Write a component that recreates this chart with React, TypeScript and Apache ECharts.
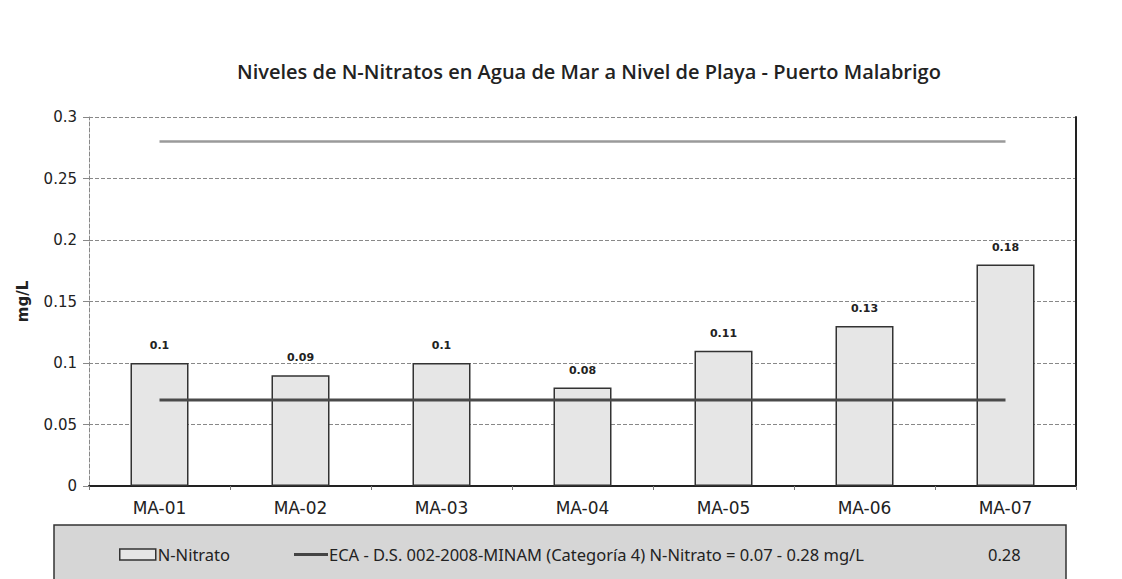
import React, { useEffect, useRef } from "react";
import * as echarts from "echarts";

const categories = ["MA-01", "MA-02", "MA-03", "MA-04", "MA-05", "MA-06", "MA-07"];
const nitrato = [0.1, 0.09, 0.1, 0.08, 0.11, 0.13, 0.18];
const ecaLow = [0.07, 0.07, 0.07, 0.07, 0.07, 0.07, 0.07];
const ecaHigh = [0.28, 0.28, 0.28, 0.28, 0.28, 0.28, 0.28];
const barName = "N-Nitrato";
const ecaName = "ECA - D.S. 002-2008-MINAM (Categoría 4) N-Nitrato = 0.07 - 0.28 mg/L";
const highName = "0.28";
const title = "Niveles de N-Nitratos en Agua de Mar a Nivel de Playa - Puerto Malabrigo";

export default function App() {
  const ref = useRef<HTMLDivElement>(null);
  useEffect(() => {
    if (!ref.current) return;
    const chart = echarts.init(ref.current, null, { renderer: "svg" });
    const legendText = { fontFamily: "Noto Sans", fontSize: 16.5, color: "#222" };
    chart.setOption({
      animation: false,
      backgroundColor: "#fff",
      title: {
        text: title,
        left: 232,
        top: 56,
        textStyle: { fontFamily: "Open Sans", fontWeight: 600, fontSize: 20, color: "#222" },
      },
      graphic: [
        {
          type: "rect",
          shape: { x: 54, y: 525, width: 1012, height: 56 },
          style: { fill: "#d6d6d6", stroke: "#333", lineWidth: 1.5 },
          z: -1,
        },
      ],
      legend: [
        {
          data: [barName],
          left: 114,
          top: 541,
          itemWidth: 36,
          itemHeight: 11,
          icon: "rect",
          itemGap: 2,
          textStyle: { ...legendText, padding: [0, 0, 0, -3] },
          itemStyle: { color: "#e6e6e6", borderColor: "#333", borderWidth: 1.5 },
        },
        {
          data: [ecaName],
          left: 289,
          top: 541,
          itemWidth: 34,
          itemHeight: 3,
          icon: "rect",
          textStyle: { ...legendText, padding: [0, 0, 0, -4] },
          itemStyle: { color: "#444" },
        },
        {
          data: [{ name: highName, icon: "none" }],
          left: 978,
          top: 541,
          itemWidth: 0,
          textStyle: legendText,
        },
      ],
      grid: { left: 89, right: 46, top: 117, bottom: 93 },
      xAxis: [
        {
          type: "category",
          data: categories,
          axisLine: { lineStyle: { color: "#777", type: "dashed", width: 1 } },
          axisTick: { show: true, length: 4, lineStyle: { color: "#777" } },
          axisLabel: { fontFamily: "DejaVu Sans", fontSize: 17, color: "#222", margin: 13 },
        },
        {
          type: "category",
          data: categories,
          position: "top",
          axisLine: { lineStyle: { color: "#222", width: 2 } },
          axisTick: { show: false },
          axisLabel: { show: false },
        },
      ],
      yAxis: [
        {
          type: "value",
          min: 0,
          max: 0.3,
          interval: 0.05,
          name: "mg/L",
          nameLocation: "middle",
          nameGap: 59,
          nameTextStyle: { fontFamily: "DejaVu Sans", fontWeight: "bold", fontSize: 15, color: "#222" },
          axisLine: { show: true, lineStyle: { color: "#888", type: "dashed", width: 1 } },
          axisTick: { show: true, length: 6, lineStyle: { color: "#888" } },
          axisLabel: { fontFamily: "DejaVu Sans", fontSize: 15, color: "#222", margin: 12 },
          splitLine: { show: true, lineStyle: { color: "#888", type: "dashed", width: 1 } },
        },
        {
          type: "value",
          min: 0,
          max: 0.3,
          interval: 0.05,
          position: "right",
          axisLine: { show: true, lineStyle: { color: "#222", width: 2 } },
          axisTick: { show: false },
          axisLabel: { show: false },
          splitLine: { show: false },
        },
      ],
      series: [
        {
          name: barName,
          type: "bar",
          data: nitrato,
          barWidth: 58,
          itemStyle: { color: "#e6e6e6", borderColor: "#333", borderWidth: 1.5 },
          label: {
            show: true,
            position: "top",
            distance: 12,
            fontFamily: "DejaVu Sans",
            fontWeight: "bold",
            fontSize: 11,
            color: "#222",
          },
        },
        {
          name: ecaName,
          type: "line",
          data: ecaLow,
          showSymbol: false,
          symbol: "none",
          lineStyle: { color: "#4a4a4a", width: 3 },
          itemStyle: { color: "#444" },
          z: 3,
        },
        {
          name: highName,
          type: "line",
          data: ecaHigh,
          showSymbol: false,
          symbol: "none",
          lineStyle: { color: "#9a9a9a", width: 2.5 },
          itemStyle: { color: "#9a9a9a" },
          z: 3,
        },
      ],
    });
    return () => chart.dispose();
  }, []);
  return (
    <div
      ref={ref}
      style={{ position: "fixed", left: 0, top: 0, width: 1122, height: 579 }}
    />
  );
}
